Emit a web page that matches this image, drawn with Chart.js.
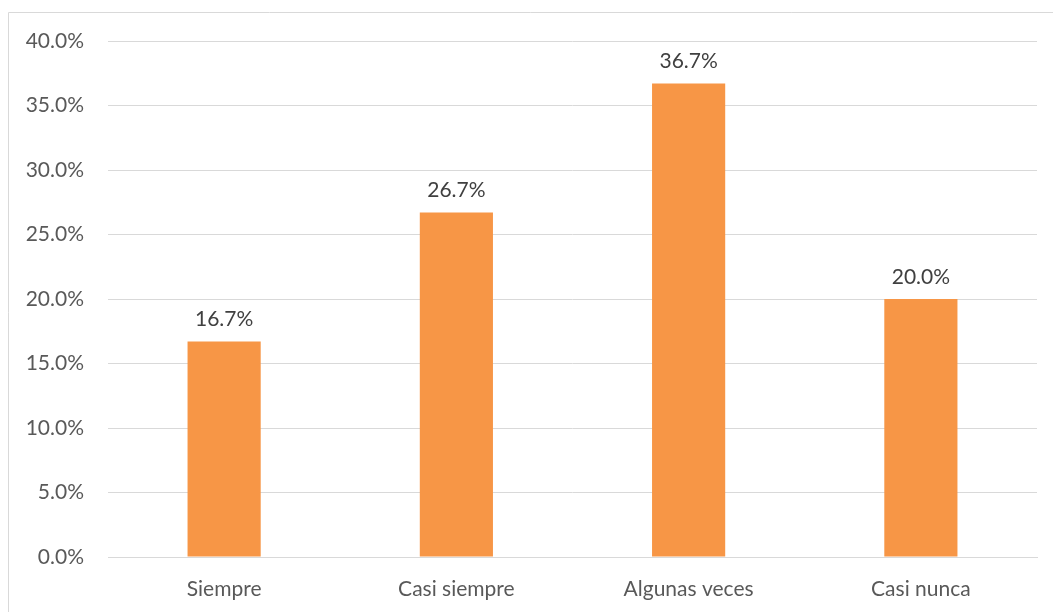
<!DOCTYPE html>
<html>
<head>
<meta charset="utf-8">
<script src="https://cdn.jsdelivr.net/npm/chart.js@4.4.0/dist/chart.umd.min.js"></script>
<style>
html,body{margin:0;padding:0;background:#fff;}
#wrap{position:relative;width:1053px;height:612px;}
</style>
</head>
<body>
<div id="wrap"><canvas id="c" width="1053" height="612"></canvas></div>
<script>
const categories = ["Siempre", "Casi siempre", "Algunas veces", "Casi nunca"];
const values = [16.7, 26.7, 36.7, 20.0];
const yTicks = [0, 5, 10, 15, 20, 25, 30, 35, 40];

const FONT = "Lato, 'Liberation Sans', sans-serif";

const borderPlugin = {
  id: 'outerBorder',
  beforeDraw(chart) {
    const ctx = chart.ctx;
    ctx.save();
    ctx.strokeStyle = '#d9d9d9';
    ctx.lineWidth = 1;
    ctx.beginPath();
    ctx.moveTo(8.5, 612);
    ctx.lineTo(8.5, 12.5);
    ctx.lineTo(1053, 12.5);
    ctx.stroke();
    ctx.restore();
  }
};

const labelPlugin = {
  id: 'barLabels',
  afterDatasetsDraw(chart) {
    const ctx = chart.ctx;
    const meta = chart.getDatasetMeta(0);
    ctx.save();
    ctx.font = "21px " + FONT;
    ctx.fillStyle = '#404040';
    ctx.textAlign = 'center';
    ctx.textBaseline = 'middle';
    meta.data.forEach((bar, i) => {
      ctx.fillText(values[i].toFixed(1) + '%', bar.x, bar.y - 22);
    });
    ctx.restore();
  }
};

new Chart(document.getElementById('c'), {
  type: 'bar',
  data: {
    labels: categories,
    datasets: [{
      data: values,
      backgroundColor: '#F79646',
      borderWidth: 0,
      categoryPercentage: 1,
      barPercentage: 0.315
    }]
  },
  options: {
    responsive: false,
    animation: false,
    layout: { padding: { left: 0, top: 41, right: 16, bottom: 0 } },
    plugins: { legend: { display: false }, tooltip: { enabled: false } },
    scales: {
      x: {
        grid: { display: false, drawTicks: false },
        border: { display: true, color: '#d9d9d9', width: 1 },
        ticks: { color: '#595959', font: { family: FONT, size: 21 }, padding: 20 },
        afterFit(scale) { scale.height = 55; }
      },
      y: {
        min: 0, max: 40,
        afterBuildTicks(scale) { scale.ticks = yTicks.map(v => ({ value: v })); },
        grid: { color: '#d9d9d9', drawTicks: false },
        border: { display: false },
        ticks: {
          color: '#595959', font: { family: FONT, size: 21 }, padding: 24,
          callback: v => Number(v).toFixed(1) + '%'
        },
        afterFit(scale) { scale.width = 108; }
      }
    }
  },
  plugins: [borderPlugin, labelPlugin]
});
</script>
</body>
</html>
